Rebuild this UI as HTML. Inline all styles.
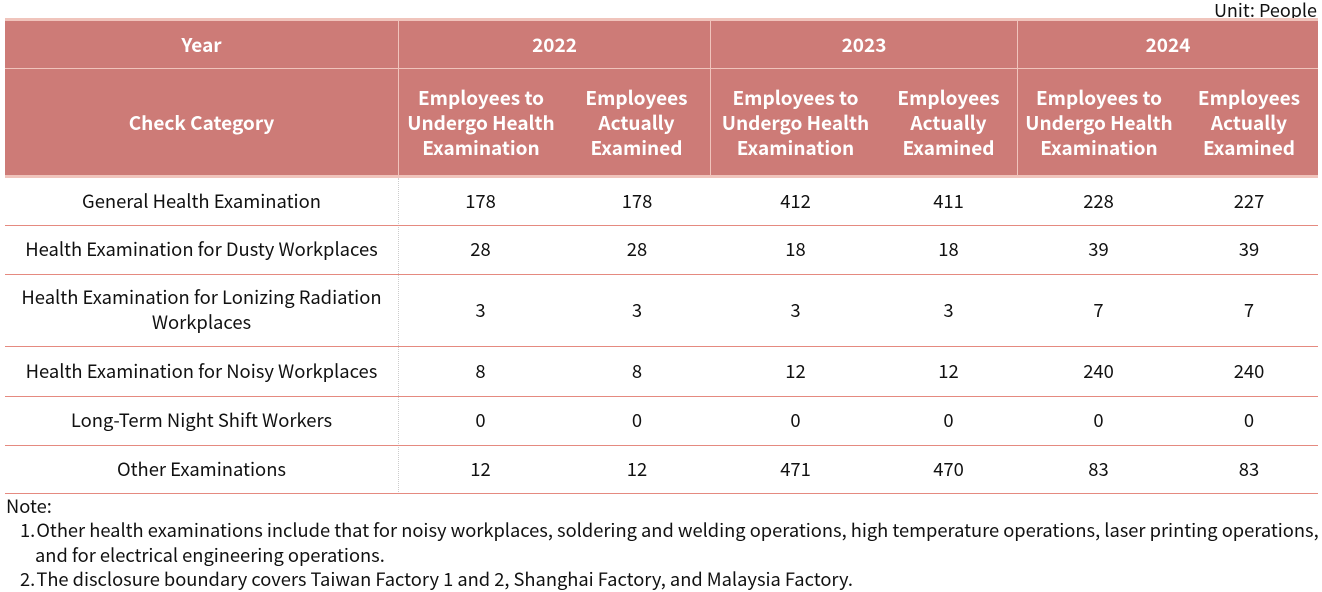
<!DOCTYPE html>
<html><head><meta charset="utf-8"><style>
body{margin:0;width:1322px;height:588px;background:#fff;position:relative;overflow:hidden;font-family:"Noto Sans CJK TC","Liberation Sans",sans-serif;color:#111}
.a{position:absolute;display:flex;align-items:center;justify-content:center;text-align:center;box-sizing:border-box}
.h{background:#cd7b77;color:#fff;font-weight:bold;font-size:19px;line-height:25px}
.d{font-size:18.4px;line-height:25px}
.hl{position:absolute;height:1px;background:#e58a80;left:5px;width:1313px}
</style></head><body>
<div style="position:absolute;right:5px;top:-3px;font-size:18px">Unit: People</div>
<div style="position:absolute;left:5px;top:18px;width:1313px;height:160px;background:#f0c4bc"></div>
<div class="a h" style="left:5px;top:21px;width:393px;height:47px">Year</div>
<div class="a h" style="left:399px;top:21px;width:311px;height:47px">2022</div>
<div class="a h" style="left:711px;top:21px;width:306px;height:47px">2023</div>
<div class="a h" style="left:1018px;top:21px;width:300px;height:47px">2024</div>
<div class="a h" style="left:5px;top:69px;width:393px;height:106px">Check Category</div>
<div class="a h" style="left:399px;top:69px;width:164px;height:106px">Employees to<br>Undergo Health<br>Examination</div>
<div class="a h" style="left:563px;top:69px;width:147px;height:106px">Employees<br>Actually<br>Examined</div>
<div class="a h" style="left:711px;top:69px;width:169px;height:106px">Employees to<br>Undergo Health<br>Examination</div>
<div class="a h" style="left:880px;top:69px;width:137px;height:106px">Employees<br>Actually<br>Examined</div>
<div class="a h" style="left:1018px;top:69px;width:162px;height:106px">Employees to<br>Undergo Health<br>Examination</div>
<div class="a h" style="left:1180px;top:69px;width:138px;height:106px">Employees<br>Actually<br>Examined</div>
<div style="position:absolute;left:398px;top:178px;height:316px;border-left:1px dotted #ccc"></div>
<div class="hl" style="top:225px"></div><div class="hl" style="top:274px"></div><div class="hl" style="top:346px"></div><div class="hl" style="top:396px"></div><div class="hl" style="top:445px"></div><div class="hl" style="top:493px"></div>
<div id="rows"></div>
<div style="position:absolute;left:6px;top:494px;font-size:18.3px;line-height:24.3px;white-space:nowrap">Note:<br>
<div style="padding-left:14px">1.&#8202;Other health examinations include that for noisy workplaces, soldering and welding operations, high temperature operations, laser printing operations,<br><span style="padding-left:15px">and for electrical engineering operations.</span><br>2.&#8202;The disclosure boundary covers Taiwan Factory 1 and 2, Shanghai Factory, and Malaysia Factory.</div></div>
<script>
var rows=[[178,225,"General Health Examination",178,178,412,411,228,227],[225,274,"Health Examination for Dusty Workplaces",28,28,18,18,39,39],[274,346,"Health Examination for Lonizing Radiation<br>Workplaces",3,3,3,3,7,7],[346,396,"Health Examination for Noisy Workplaces",8,8,12,12,240,240],[396,445,"Long-Term Night Shift Workers",0,0,0,0,0,0],[445,493,"Other Examinations",12,12,471,470,83,83]];
var xs=[5,398,563,711,880,1017,1180,1318],h="";
rows.forEach(function(r){for(var i=0;i<7;i++)h+='<div class="a d" style="left:'+xs[i]+'px;width:'+(xs[i+1]-xs[i])+'px;top:'+r[0]+'px;height:'+(r[1]-r[0])+'px">'+r[2+i]+'</div>';});
document.getElementById("rows").innerHTML=h;
</script>
</body></html>
